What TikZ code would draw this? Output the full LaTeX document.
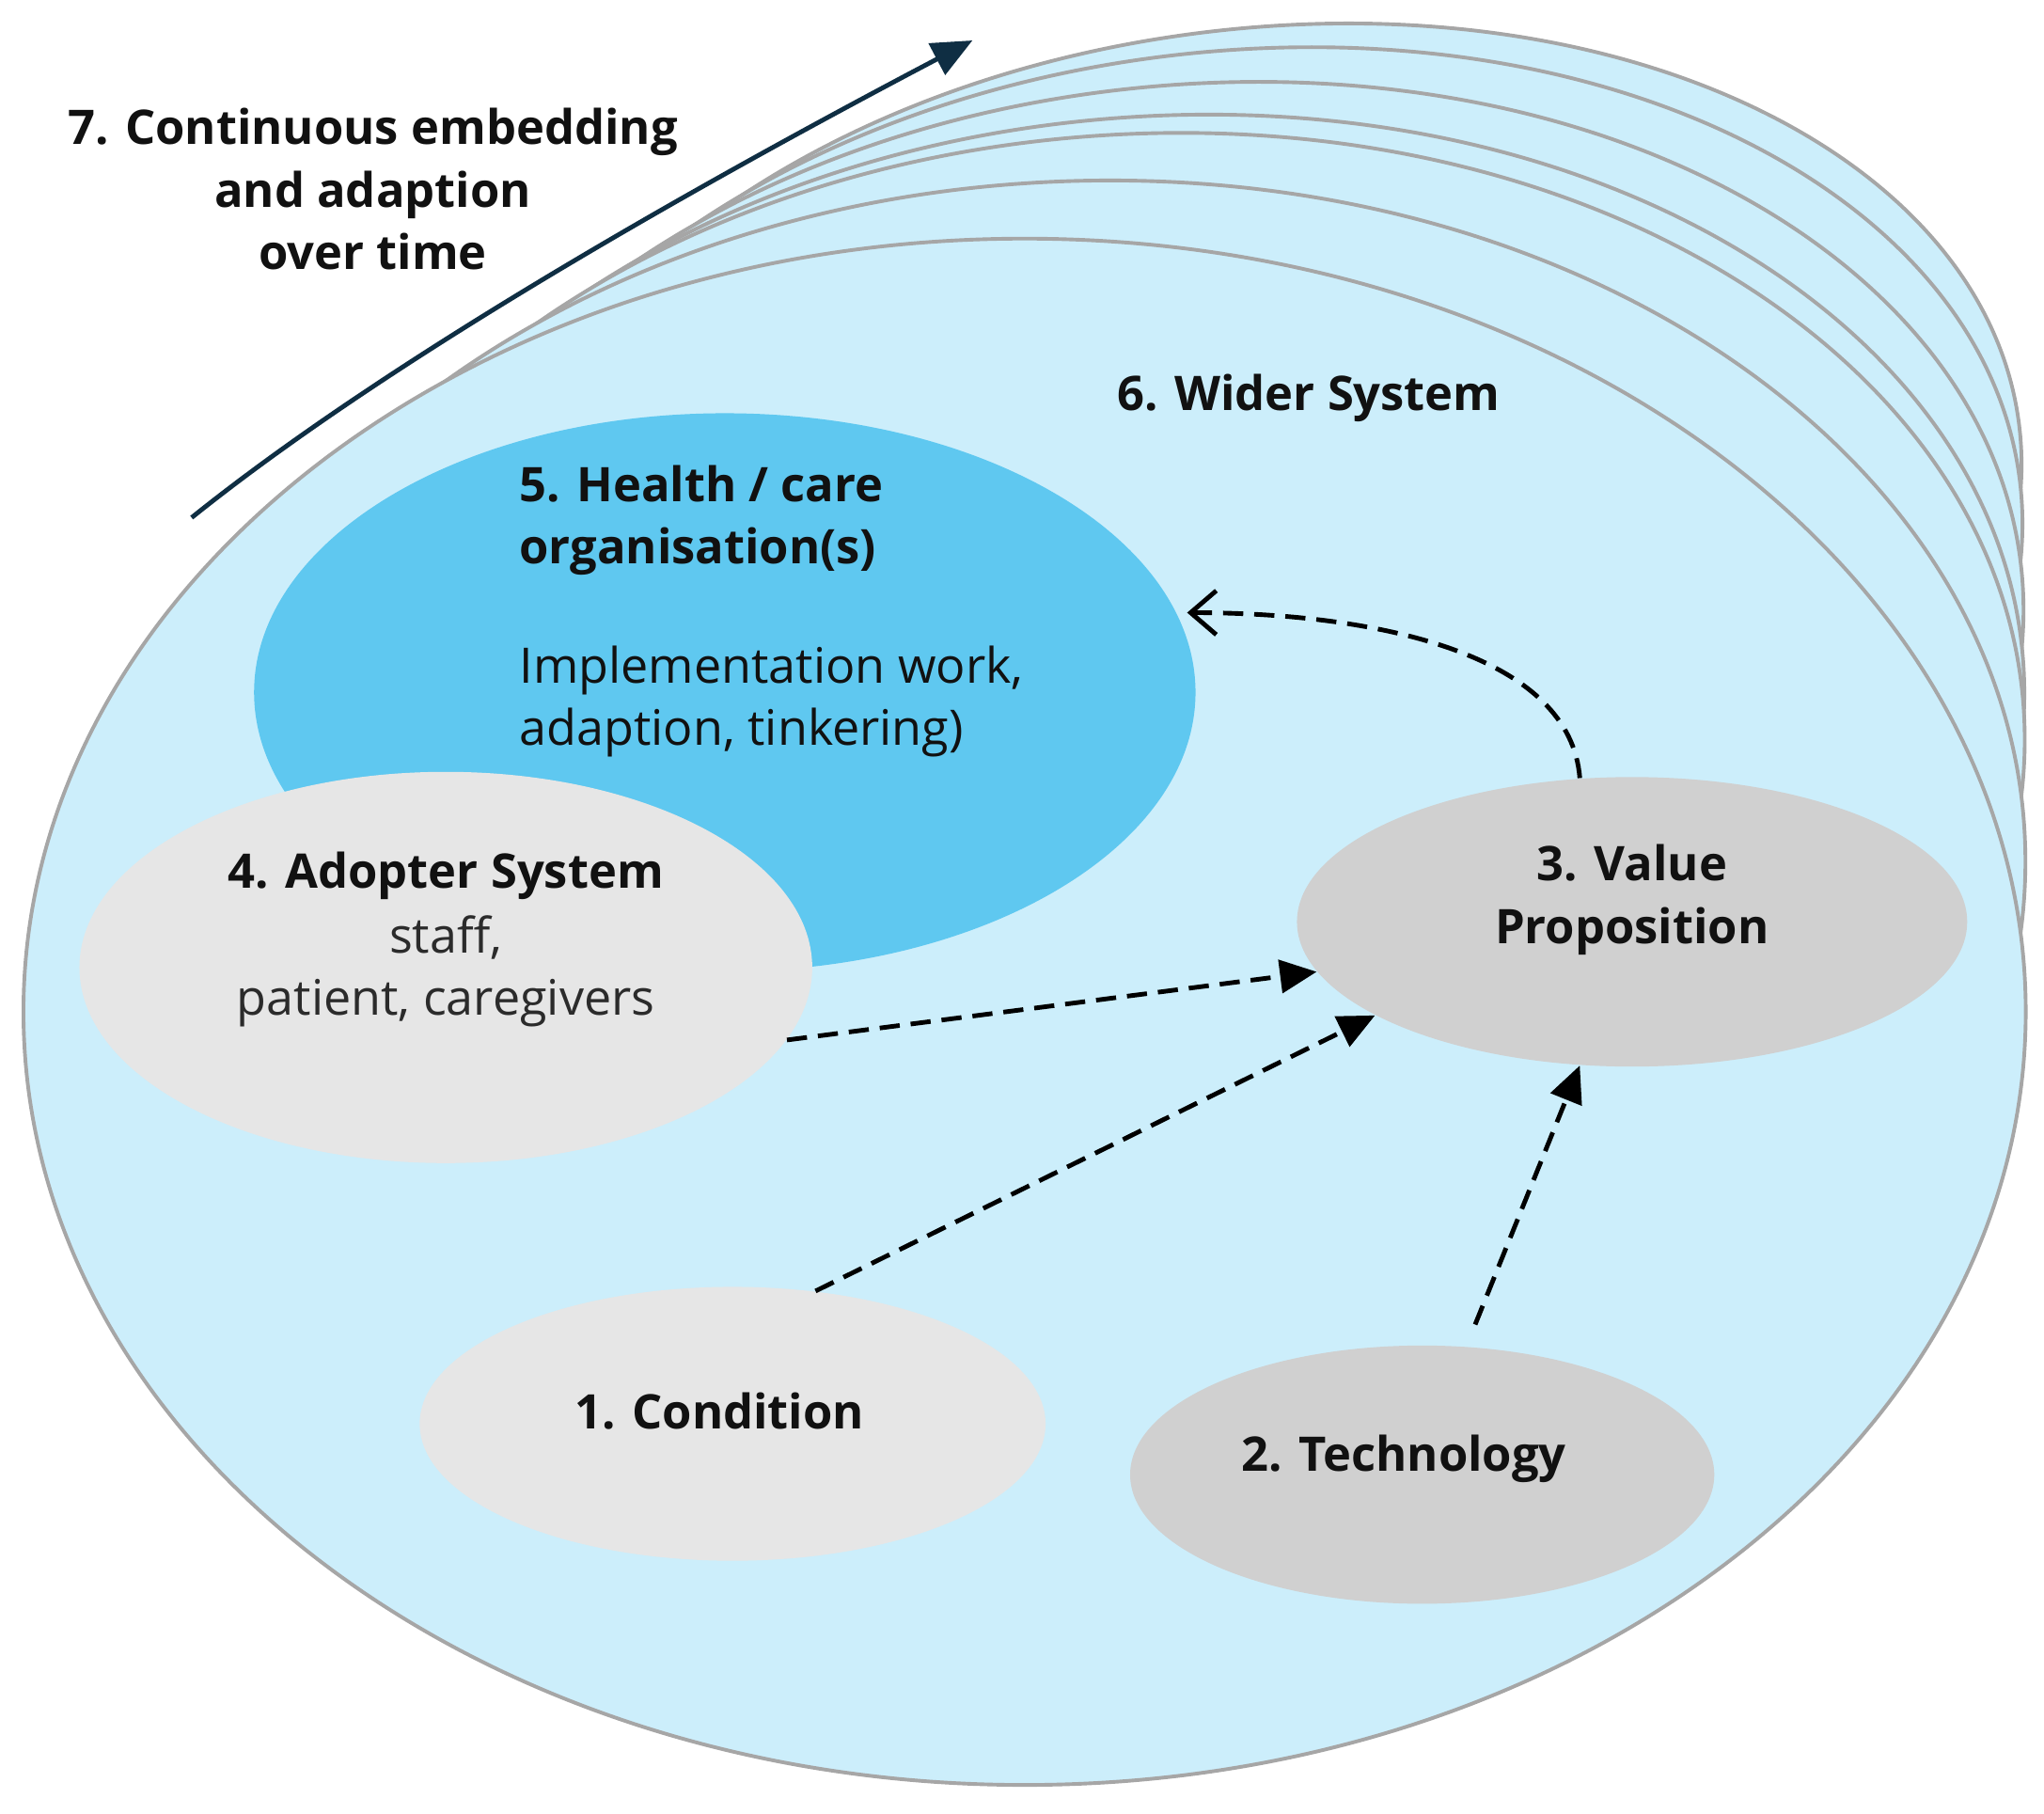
\documentclass[tikz,border=0pt]{standalone}
\usepackage{fontspec}
\setmainfont{Open Sans}
\usetikzlibrary{shapes.geometric, arrows.meta}
\definecolor{wider}{HTML}{CCEEFB}
\definecolor{rimgray}{HTML}{A6A6A6}
\definecolor{orgblue}{HTML}{5FC8F0}
\definecolor{palegray}{HTML}{E6E6E6}
\definecolor{midgray}{HTML}{D0D0D0}
\definecolor{navy}{HTML}{0F2E43}
\definecolor{ink}{HTML}{111111}
\definecolor{subink}{HTML}{2B2B2B}
\begin{document}
\begin{tikzpicture}[x=0.0125cm, y=-0.0125cm,
  layer/.style={fill=wider, draw=rimgray, line width=1pt},
  blob/.style={ellipse, inner sep=0pt, draw=none},
  lbl/.style={font=\fontsize{13.0}{17.0}\selectfont\bfseries, text=ink, align=center, inner sep=0pt},
  sublbl/.style={font=\fontsize{13.35}{17.0}\selectfont, text=subink, align=center, inner sep=0pt},
  flow/.style={draw=black, line width=1.25pt, dash pattern=on 5.5pt off 3pt, -{Triangle[length=10pt,width=9pt]}},
]
\useasboundingbox (0,0) rectangle (1568,1391);

% stack of "wider system" layers, back to front
\foreach \cx/\cy/\a/\b/\r in {962/403/592/380/7.8, 943.2/442.9/610.8/402.8/6.97, 915.5/501.5/638.5/436.2/5.74, 889/557.8/665/468.4/4.56, 874/589.5/680/486.5/3.9, 834.8/672.7/719.2/534/2.16}{
  \path[layer, rotate around={\r:(\cx,\cy)}] (\cx,\cy) ellipse [x radius=\a, y radius=\b];
}
\path[layer] (786,776) ellipse [x radius=768, y radius=593];

% time arrow
\coordinate (tstart) at (147,397);
\coordinate (tend) at (746,31);
\draw[navy, line width=1.25pt, -{Triangle[length=11pt,width=9.5pt]}] (tstart) .. controls (274,295) and (474,174) .. (tend);
\node[lbl] (t7) at (286,145) {7. Continuous embedding\\and adaption\\over time};

\node[lbl] (t6) at (1004,305) {6. Wider System};

% organisation
\node[blob, fill=orgblue, minimum width=9.025cm, minimum height=5.35cm] (org) at (556,531) {};
\node[lbl, align=left, anchor=west] (t5a) at (398,399) {5. Health / care\\organisation(s)};
\node[sublbl, text=ink, align=left, anchor=west] (t5b) at (398,538) {Implementation work,\\adaption, tinkering)};

% adopter system
\node[blob, fill=palegray, minimum width=7.025cm, minimum height=3.75cm] (adopter) at (342,742) {};
\node[lbl] (t4a) at (342,672) {4. Adopter System};
\node[sublbl] (t4b) at (342,745) {staff,\\patient, caregivers};

% value proposition
\node[blob, fill=midgray, minimum width=6.425cm, minimum height=2.775cm] (value) at (1252,707) {};
\node[lbl] (t3) at (1252,690) {3. Value\\Proposition};

% condition
\node[blob, fill=palegray, minimum width=6.0cm, minimum height=2.625cm] (cond) at (562,1092) {};
\node[lbl] (t1) at (552,1082) {1. Condition};

% technology
\node[blob, fill=midgray, minimum width=5.6cm, minimum height=2.475cm] (tech) at (1091,1131) {};
\node[lbl] (t2) at (1077,1119) {2. Technology};

% connectors
\draw[flow] (adopter.-12.5) -- (value.189);
\draw[flow] (cond.58.8) -- (value.200.8);
\draw[flow, shorten <=18*0.0125cm] (tech.71) -- (value.250.6);
\draw[flow, -{Straight Barb[length=7pt,width=12pt]}] (value.110.5) .. controls (1205,505) and (1065,470) .. ([xshift=8*0.0125cm]org.10);
\end{tikzpicture}
\end{document}
